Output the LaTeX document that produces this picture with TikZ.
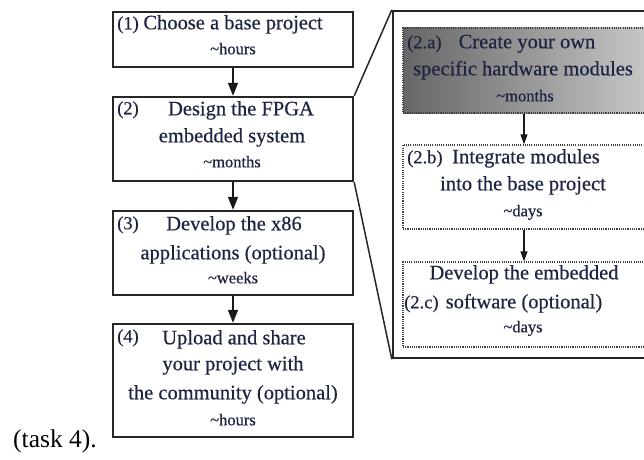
\documentclass[tikz,border=0pt]{standalone}
\usepackage{fontspec}
\setmainfont{Liberation Serif}
\newfontfamily\inkfont{Liberation Serif}[FakeBold=0.5]
\usetikzlibrary{arrows.meta}
\definecolor{ink}{RGB}{30,36,66}
\begin{document}
\begin{tikzpicture}[x=1pt,y=1pt,
  mainbox/.style={draw=black!85, line width=2.4pt, inner sep=0pt},
  dotbox/.style={draw=black!75, line width=1.3pt, dash pattern=on 1.1pt off 1.1pt, inner sep=0pt},
  txt/.style={text=ink, font=\inkfont\fontsize{20.5}{24}\selectfont, anchor=mid, inner sep=0pt},
  dur/.style={text=ink, font=\inkfont\fontsize{16.5}{18}\selectfont, anchor=mid, inner sep=0pt},
  lab/.style={text=ink, font=\inkfont\fontsize{18.5}{20}\selectfont, anchor=mid west, inner sep=0pt},
  bigarrow/.style={line width=1.6pt, draw=black!90, -{Triangle[width=10pt,length=13pt]}},
  smallarrow/.style={line width=1.1pt, draw=black!90, -{Triangle[width=7pt,length=10pt]}},
  zoomline/.style={line width=1.5pt, draw=black!85}
]
\useasboundingbox (0,0) rectangle (644,459);
\begin{scope}
\clip (0,0) rectangle (644,459);

% main flow, left column
\node[mainbox, minimum width=240pt, minimum height=55pt] (b1) at (233,419.5) {};
\node[mainbox, minimum width=240pt, minimum height=84pt] (b2) at (233,320) {};
\node[mainbox, minimum width=240pt, minimum height=84pt] (b3) at (233,206) {};
\node[mainbox, minimum width=240pt, minimum height=113pt] (b4) at (233,78.5) {};

\node[txt] (t1a) at (220,432) {\fontsize{18.5}{20}\selectfont(1) \fontsize{20.5}{24}\selectfont Choose a base project};
\node[dur] (t1b) at (233,407) {\textasciitilde hours};

\node[lab] (l2) at (117,347) {(2)};
\node[txt] (t2a) at (241,346) {Design the FPGA};
\node[txt] (t2b) at (232,319) {embedded system};
\node[dur] (t2c) at (232,294) {\textasciitilde months};

\node[lab] (l3) at (117,232) {(3)};
\node[txt] (t3a) at (234,231) {Develop the x86};
\node[txt] (t3b) at (233,202) {applications (optional)};
\node[dur] (t3c) at (233,178) {\textasciitilde weeks};

\node[lab] (l4) at (117,119) {(4)};
\node[txt] (t4a) at (234,117) {Upload and share};
\node[txt] (t4b) at (233,91) {your project with};
\node[txt] (t4c) at (233,62) {the community (optional)};
\node[dur] (t4d) at (233,36) {\textasciitilde hours};

\draw[bigarrow] (b1.south) -- (b2.north);
\draw[bigarrow] (b2.south) -- (b3.north);
\draw[bigarrow] (b3.south) -- (b4.north);

% detail of step (2)
\node[mainbox, minimum width=267pt, minimum height=347pt] (big) at (526.5,274.5) {};
\draw[zoomline] (b2.north east) -- (big.north west);
\draw[zoomline] (b2.south east) -- (big.south west);

\node[dotbox, minimum width=257pt, minimum height=85pt,
      left color=black!60, right color=black!20] (s1) at (531.5,388.5) {};
\node[dotbox, minimum width=257pt, minimum height=84pt] (s2) at (531.5,272) {};
\node[dotbox, minimum width=257pt, minimum height=85pt] (s3) at (531.5,154.5) {};

\node[lab] (la) at (407,413) {(2.a)};
\node[txt] (sa1) at (527,413) {Create your own};
\node[txt] (sa2) at (523,386) {specific hardware modules};
\node[dur] (sa3) at (525,360) {\textasciitilde months};

\node[lab] (lb) at (407,298) {(2.b)};
\node[txt] (sb1) at (526,298) {Integrate modules};
\node[txt] (sb2) at (523,271) {into the base project};
\node[dur] (sb3) at (523,245) {\textasciitilde days};

\node[txt] (sc1) at (524,182) {Develop the embedded};
\node[lab] (lc) at (404,153) {(2.c)};
\node[txt] (sc2) at (524,153) {software (optional)};
\node[dur] (sc3) at (523,129) {\textasciitilde days};

\draw[smallarrow] (s1.south -| 524,0) -- (s2.north -| 524,0);
\draw[smallarrow] (s2.south -| 524,0) -- (s3.north -| 524,0);
\end{scope}

% trailing text of the sentence
\node[font=\fontsize{25.5}{28}\selectfont, anchor=mid west, inner sep=0pt] (task) at (13,14) {(task 4).};
\end{tikzpicture}
\end{document}
